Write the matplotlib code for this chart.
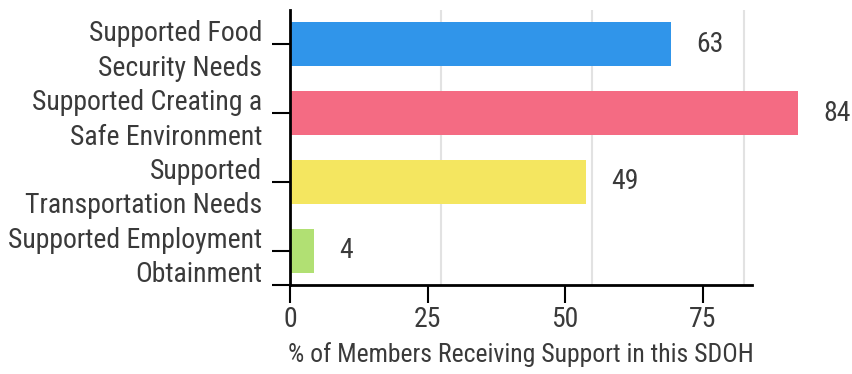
import matplotlib.pyplot as plt
import numpy as np

plt.rcParams['font.family'] = ['Roboto Condensed', 'Liberation Sans Narrow', 'Roboto', 'DejaVu Sans']

categories = ['Supported Food\nSecurity Needs',
              'Supported Creating a\nSafe Environment',
              'Supported\nTransportation Needs',
              'Supported Employment\nObtainment']
values = [63, 84, 49, 4]
colors = ['#3095ea', '#f46b83', '#f4e660', '#b1e073']
x_ticks = [0, 25, 50, 75]
x_label = '% of Members Receiving Support in this SDOH'

text_color = '#3a3a3a'
fs = 20

fig = plt.figure(figsize=(8.53, 3.74), dpi=100)
W, H = 853, 374

# bar panel
ax = fig.add_axes([290 / W, (H - 285) / H, 508 / W, 275 / H])
y = np.arange(len(categories))
ax.barh(y, values, height=0.64, color=colors, zorder=2)
ax.set_xlim(0, max(values))
ax.set_ylim(len(categories) - 0.5, -0.5)
ax.set_xticks(x_ticks[1:])
ax.grid(axis='x', color='#e2e2e2', linewidth=1.5, zorder=0)
ax.tick_params(axis='x', length=0, labelbottom=False)
for s in ['top', 'right', 'bottom']:
    ax.spines[s].set_visible(False)
ax.spines['left'].set_linewidth(2)
ax.set_yticks(y)
ax.set_yticklabels(categories, fontsize=fs, color=text_color, linespacing=1.36)
ax.set_yticks([len(categories) - 0.5], minor=True)
ax.tick_params(axis='y', which='both', length=13, width=1.5, pad=7)

for yi, v in zip(y, values):
    ax.annotate(str(v), (v, yi), xytext=(18, 0), textcoords='offset points',
                ha='left', va='center', fontsize=fs, color=text_color)

# value axis
ax2 = fig.add_axes([290 / W, (H - 285) / H, 462 / W, 275 / H])
ax2.patch.set_visible(False)
ax2.set_xlim(0, max(values))
ax2.set_xticks(x_ticks)
ax2.set_yticks([])
for s in ['top', 'right', 'left']:
    ax2.spines[s].set_visible(False)
ax2.spines['bottom'].set_linewidth(2)
ax2.tick_params(axis='x', length=13, width=1.5, pad=2, labelsize=fs, labelcolor=text_color)
ax2.set_xlabel(x_label, fontsize=18.5, color=text_color, labelpad=7)

fig.savefig('out.png', dpi=100)
